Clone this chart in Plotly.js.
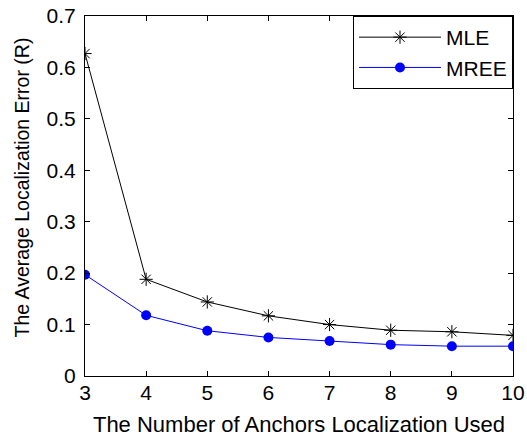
<!DOCTYPE html>
<html>
<head>
<meta charset="utf-8">
<script src="https://cdn.plot.ly/plotly-3.0.1.min.js"></script>
<style>html,body{margin:0;padding:0;background:#fff;}</style>
</head>
<body>
<div id="chart" style="width:527px;height:437px;"></div>
<script>
var anchors = [3, 4, 5, 6, 7, 8, 9, 10];
var mleValues = [0.627, 0.188, 0.144, 0.117, 0.100, 0.089, 0.086, 0.079];
var mreeValues = [0.197, 0.118, 0.088, 0.075, 0.068, 0.061, 0.058, 0.058];
var xTickVals = [3, 4, 5, 6, 7, 8, 9, 10];
var yTickVals = [0, 0.1, 0.2, 0.3, 0.4, 0.5, 0.6, 0.7];
var yTickText = ['0', '0.1', '0.2', '0.3', '0.4', '0.5', '0.6', '0.7'];
var xTitle = 'The Number of Anchors Localization Used';
var yTitle = 'The Average Localization Error (R)';

var FONT = 'Liberation Sans, Arial, sans-serif';

var traces = [
  {x: anchors, y: mleValues, name: 'MLE', mode: 'lines+markers', type: 'scatter',
   line: {color: '#000', width: 1},
   marker: {symbol: 'asterisk-open', size: 11, color: '#000', line: {color: '#000', width: 1}}},
  {x: anchors, y: mreeValues, name: 'MREE', mode: 'lines+markers', type: 'scatter',
   line: {color: '#0000ff', width: 1},
   marker: {symbol: 'circle', size: 10, color: '#0000ff'}}
];

var axisCommon = {
  showline: true, linecolor: '#000', linewidth: 1, mirror: 'ticks',
  ticks: 'inside', ticklen: 5, tickcolor: '#000', showgrid: false, zeroline: false,
  tickfont: {family: FONT, size: 21, color: '#000'}
};

var layout = {
  width: 527, height: 437,
  margin: {l: 85, r: 14, t: 16, b: 61},
  paper_bgcolor: '#fff', plot_bgcolor: '#fff',
  showlegend: true,
  legend: {x: 1, y: 1, xanchor: 'right', yanchor: 'top', bgcolor: '#fff',
    bordercolor: '#000', borderwidth: 1, itemwidth: 82,
    font: {family: FONT, size: 21, color: '#000'}},
  xaxis: Object.assign({}, axisCommon, {
    range: [3, 10], tickvals: xTickVals, ticktext: xTickVals.map(String),
    ticklabelstandoff: -2,
    title: {text: xTitle, standoff: 17,
      font: {family: FONT, size: 22, color: '#000'}}
  }),
  yaxis: Object.assign({}, axisCommon, {
    range: [0, 0.7], tickvals: yTickVals, ticktext: yTickText,
    ticklabelstandoff: 4
  }),
  annotations: [{
    text: yTitle, xref: 'paper', yref: 'paper', x: -0.147, y: 0.524,
    xanchor: 'center', yanchor: 'middle', textangle: -90, showarrow: false,
    font: {family: FONT, size: 19.5, color: '#000'}
  }]
};

Plotly.newPlot('chart', traces, layout, {displayModeBar: false, staticPlot: true});
</script>
</body>
</html>
